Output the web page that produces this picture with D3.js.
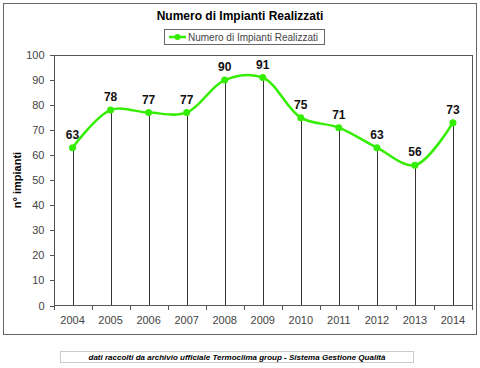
<!DOCTYPE html>
<html lang="en">
	<head>
		<meta charset="utf-8">
		<title>Numero di Impianti Realizzati</title>
		<script type="text/javascript" src="https://cdn.jsdelivr.net/npm/d3@7"></script>
		<style type="text/css">
			body { margin: 0; background: #fff; }
			.axis text {
				font-family: Arial, "Liberation Sans", sans-serif;
				font-size: 11px;
				fill: #444;
			}
			.axis path, .axis line { stroke: #555; shape-rendering: crispEdges; }
		</style>
	</head>
	<body>
		<script type="text/javascript">
			// data
			var years = ["2004", "2005", "2006", "2007", "2008", "2009", "2010", "2011", "2012", "2013", "2014"];
			var impianti = [63, 78, 77, 77, 90, 91, 75, 71, 63, 56, 73];
			var yTicks = [0, 10, 20, 30, 40, 50, 60, 70, 80, 90, 100];

			var w = 480, h = 368;
			var plotLeft = 53.5, plotRight = 472, plotTop = 55, plotBottom = 305.5;
			var green = "#33ee00";
			var font = "Arial, 'Liberation Sans', sans-serif";

			var svg = d3.select("body").append("svg").attr("width", w).attr("height", h);

			// outer frame
			svg.append("rect").attr("x", 3.5).attr("y", 3.5).attr("width", 473).attr("height", 331)
			   .attr("fill", "none").attr("stroke", "#666");

			var xScale = d3.scaleBand().domain(years).range([plotLeft, plotRight]);
			var yScale = d3.scaleLinear().domain([0, 100]).range([plotBottom, plotTop]);

			// plot border (top + right)
			svg.append("path")
			   .attr("d", "M" + plotLeft + "," + plotTop + "H" + plotRight + "V" + plotBottom)
			   .attr("fill", "none").attr("stroke", "#555").attr("shape-rendering", "crispEdges");

			// drop lines
			svg.selectAll("line.drop")
			   .data(impianti)
			   .enter()
			   .append("line")
			   .attr("class", "drop")
			   .attr("x1", function(d, i) { return Math.round(xScale(years[i]) + xScale.bandwidth() / 2) + 0.5; })
			   .attr("x2", function(d, i) { return Math.round(xScale(years[i]) + xScale.bandwidth() / 2) + 0.5; })
			   .attr("y1", function(d) { return yScale(d); })
			   .attr("y2", plotBottom)
			   .attr("stroke", "#333").attr("stroke-width", 1);

			// axes
			var yAxis = d3.axisLeft(yScale).tickValues(yTicks).tickSize(4).tickPadding(5);
			svg.append("g").attr("class", "axis").attr("transform", "translate(" + plotLeft + ",0)").call(yAxis);

			var xAxis = d3.axisBottom(xScale).tickSize(0).tickPadding(11);
			var gx = svg.append("g").attr("class", "axis").attr("transform", "translate(0," + plotBottom + ")").call(xAxis);
			gx.select(".domain").attr("d", "M" + plotLeft + ",0H" + plotRight);
			// ticks between categories
			gx.selectAll("line.sep")
			  .data(years.concat(["end"]))
			  .enter()
			  .append("line")
			  .attr("class", "sep")
			  .attr("x1", function(d, i) { return Math.round(plotLeft + i * xScale.bandwidth()) + 0.5; })
			  .attr("x2", function(d, i) { return Math.round(plotLeft + i * xScale.bandwidth()) + 0.5; })
			  .attr("y1", 0).attr("y2", 4)
			  .attr("stroke", "#555");

			// smoothed line
			var line = d3.line()
			   .x(function(d, i) { return xScale(years[i]) + xScale.bandwidth() / 2; })
			   .y(function(d) { return yScale(d); })
			   .curve(d3.curveCatmullRom.alpha(0.5));

			svg.append("path").datum(impianti)
			   .attr("d", line)
			   .attr("fill", "none").attr("stroke", green).attr("stroke-width", 2.5);

			svg.selectAll("circle.pt")
			   .data(impianti)
			   .enter()
			   .append("circle")
			   .attr("class", "pt")
			   .attr("cx", function(d, i) { return xScale(years[i]) + xScale.bandwidth() / 2; })
			   .attr("cy", function(d) { return yScale(d); })
			   .attr("r", 3.5)
			   .attr("fill", green);

			// value labels
			svg.selectAll("text.val")
			   .data(impianti)
			   .enter()
			   .append("text")
			   .attr("class", "val")
			   .text(function(d) { return d; })
			   .attr("x", function(d, i) { return xScale(years[i]) + xScale.bandwidth() / 2; })
			   .attr("y", function(d) { return yScale(d) - 9; })
			   .attr("text-anchor", "middle")
			   .attr("font-family", font).attr("font-weight", "bold").attr("font-size", "12px")
			   .attr("fill", "#111");

			// title
			svg.append("text").text("Numero di Impianti Realizzati")
			   .attr("x", 240).attr("y", 20).attr("text-anchor", "middle")
			   .attr("font-family", font).attr("font-weight", "bold").attr("font-size", "12px");

			// legend
			svg.append("rect").attr("x", 164.5).attr("y", 29.5).attr("width", 160).attr("height", 15)
			   .attr("fill", "#fff").attr("stroke", "#666");
			svg.append("line").attr("x1", 169).attr("x2", 186).attr("y1", 37).attr("y2", 37)
			   .attr("stroke", green).attr("stroke-width", 2.5);
			svg.append("circle").attr("cx", 177.5).attr("cy", 37).attr("r", 3).attr("fill", green);
			svg.append("text").text("Numero di Impianti Realizzati")
			   .attr("x", 188).attr("y", 41)
			   .attr("font-family", font).attr("font-size", "10px").attr("fill", "#444");

			// y label
			svg.append("text").text("n° impianti")
			   .attr("transform", "translate(21,180) rotate(-90)")
			   .attr("text-anchor", "middle")
			   .attr("font-family", font).attr("font-weight", "bold").attr("font-size", "11px");

			// footer
			svg.append("rect").attr("x", 60.5).attr("y", 351.5).attr("width", 353).attr("height", 11)
			   .attr("fill", "#fff").attr("stroke", "#ccc");
			svg.append("text").text("dati raccolti da archivio ufficiale Termoclima group - Sistema Gestione Qualità")
			   .attr("x", 237).attr("y", 360).attr("text-anchor", "middle")
			   .attr("font-family", font).attr("font-weight", "bold").attr("font-style", "italic")
			   .attr("font-size", "8px");
		</script>
	</body>
</html>
